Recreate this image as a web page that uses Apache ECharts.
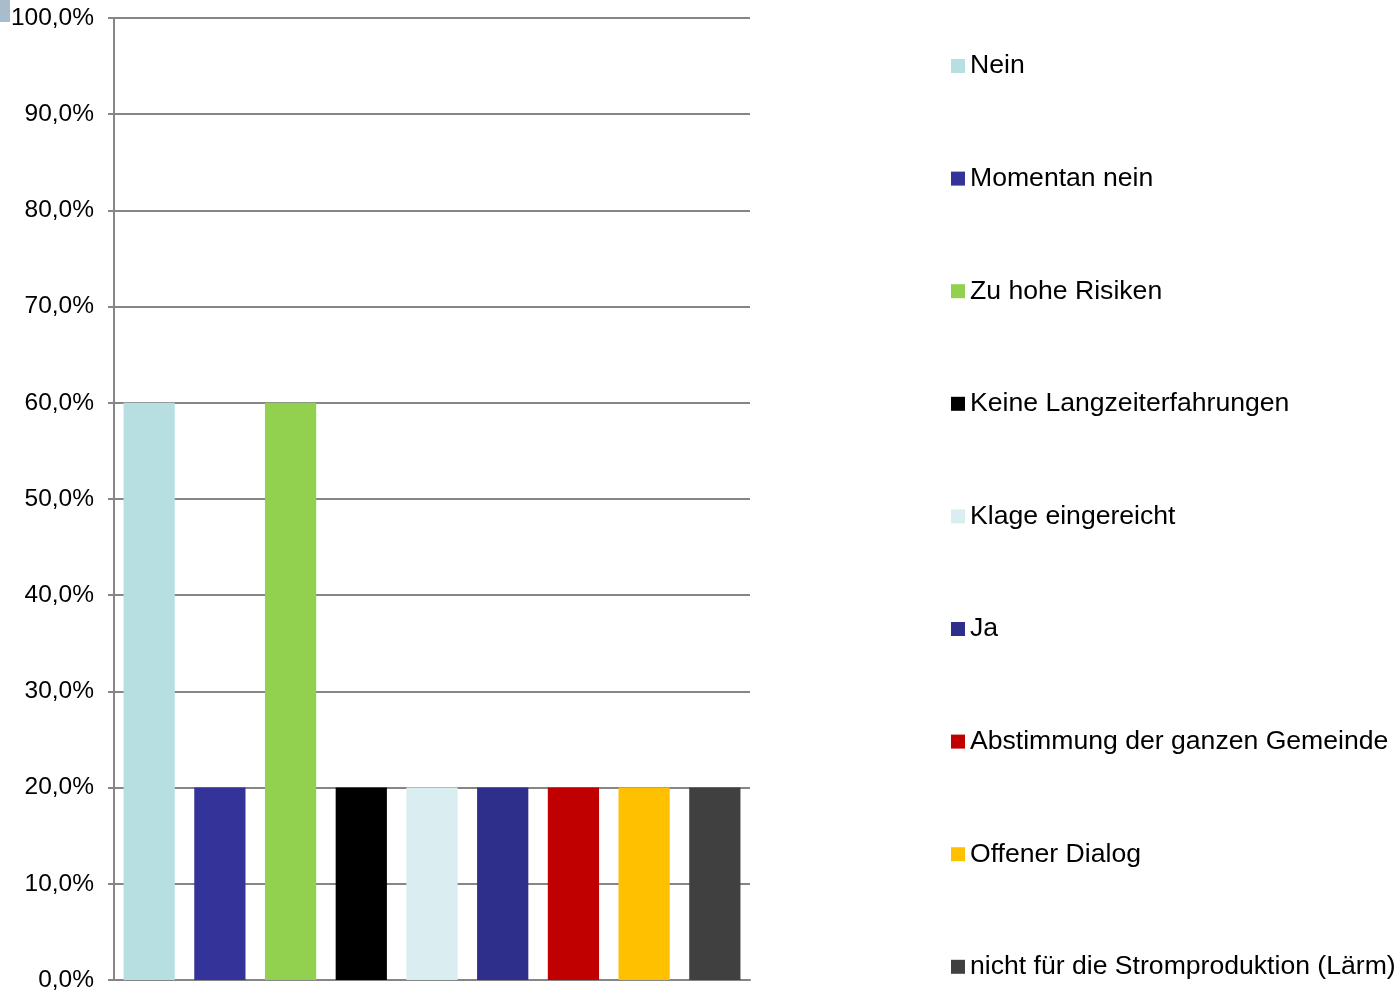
<!DOCTYPE html>
<html>
<head>
<meta charset="utf-8">
<script src="https://cdn.jsdelivr.net/npm/echarts@6/dist/echarts.min.js"></script>
<style>
html,body{margin:0;padding:0;background:#fff;}
#chart{width:1399px;height:994px;}
</style>
</head>
<body>
<div id="chart"></div>
<script>
const categories = [''];
const seriesNames = ['Nein','Momentan nein','Zu hohe Risiken','Keine Langzeiterfahrungen','Klage eingereicht','Ja','Abstimmung der ganzen Gemeinde','Offener Dialog','nicht für die Stromproduktion (Lärm)'];
const seriesValues = [60, 20, 60, 20, 20, 20, 20, 20, 20];
const seriesColors = ['#B7DFE2','#333399','#92D050','#000000','#DAEEF2','#2E2E8B','#C00000','#FFC000','#404040'];
const yTicks = [0,10,20,30,40,50,60,70,80,90,100];

const chart = echarts.init(document.getElementById('chart'));
const font = '"Liberation Sans", Arial, sans-serif';
chart.setOption({
  animation: false,
  backgroundColor: '#fff',
  graphic: [{type:'rect', left:0, top:0, shape:{width:10,height:22}, style:{fill:'#A9BCCB'}}],
  grid: {left:114, top:18, right:649, bottom:14, containLabel:false},
  legend: {
    orient: 'vertical', left: 946, top: 47,
    itemWidth: 14, itemHeight: 14, itemGap: 84.6,
    icon: 'rect',
    textStyle: {fontFamily: font, fontSize: 26.6, lineHeight: 28, color: '#000'},
    data: seriesNames
  },
  xAxis: {
    type: 'category', data: categories,
    axisLine: {lineStyle: {color: '#868686', width: 2}},
    axisTick: {show: false}, axisLabel: {show: false}
  },
  yAxis: {
    type: 'value', min: yTicks[0], max: yTicks[yTicks.length-1], interval: 10,
    axisLine: {show: true, lineStyle: {color: '#868686', width: 2}},
    axisTick: {show: true, inside: false, length: 6, lineStyle: {color: '#868686', width: 2}},
    axisLabel: {margin: 20, fontFamily: font, fontSize: 24.5, color: '#000', padding: [5,0,0,0],
      formatter: v => v.toFixed(1).replace('.', ',') + '%'},
    splitLine: {lineStyle: {color: '#868686', width: 2}}
  },
  series: seriesNames.map((n, i) => ({
    name: n, type: 'bar',
    data: [seriesValues[i]],
    itemStyle: {color: seriesColors[i]},
    barGap: '38%', barCategoryGap: '3%'
  }))
});
</script>
</body>
</html>
